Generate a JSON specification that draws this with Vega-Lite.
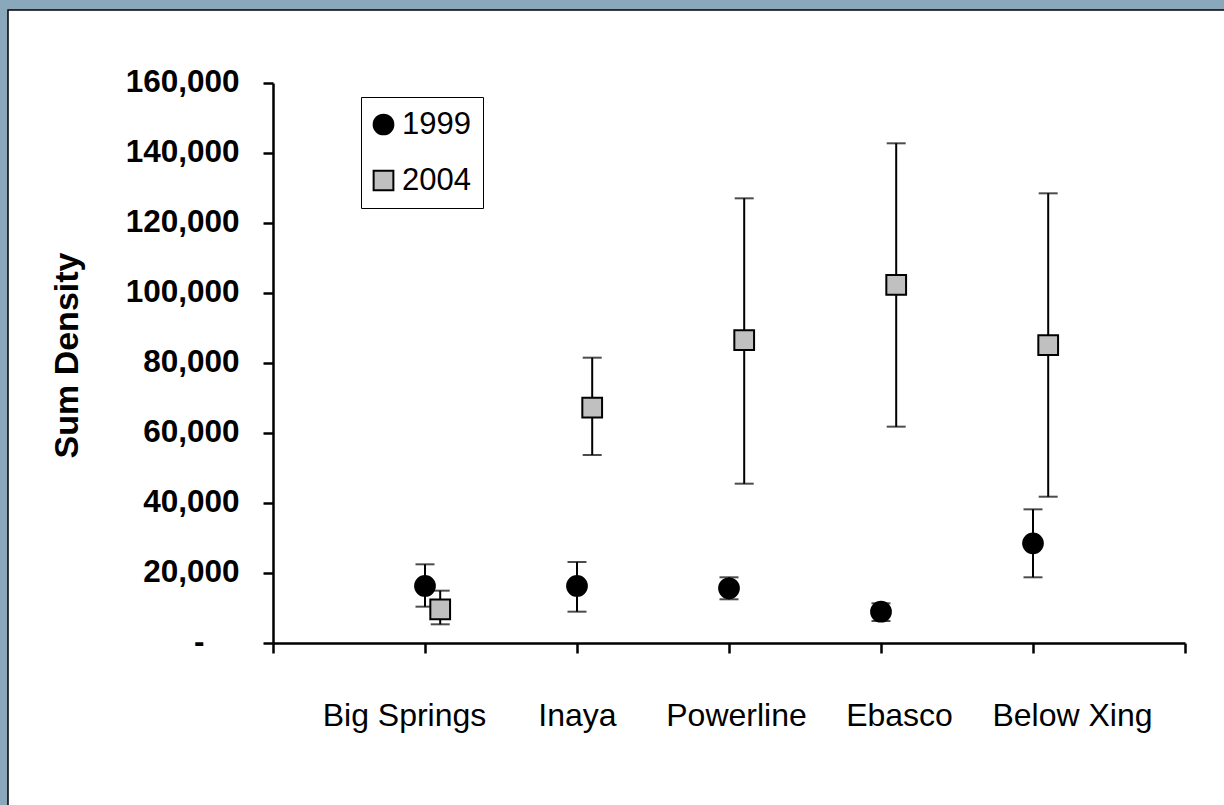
{
  "$schema": "https://vega.github.io/schema/vega-lite/v6.json",
  "width": 1216,
  "height": 795,
  "autosize": {"type": "none"},
  "padding": {"left": 8, "top": 10, "right": 0, "bottom": 0},
  "background": "#8AA8BB",
  "config": {
    "view": {"fill": "white", "stroke": "black", "strokeWidth": 1.5, "strokeDash": [1216, 2011, 795, 1]},
    "font": "Liberation Sans"
  },
  "data": {
    "values": [
      {"site": "Big Springs", "year": "1999", "pos": 1, "mean": 16290, "lo": 10380, "hi": 22480},
      {"site": "Inaya", "year": "1999", "pos": 2, "mean": 16290, "lo": 8950, "hi": 23140},
      {"site": "Powerline", "year": "1999", "pos": 3, "mean": 15630, "lo": 12490, "hi": 18770},
      {"site": "Ebasco", "year": "1999", "pos": 4, "mean": 8940, "lo": 6290, "hi": 11340},
      {"site": "Below Xing", "year": "1999", "pos": 5, "mean": 28480, "lo": 18770, "hi": 38190},
      {"site": "Big Springs", "year": "2004", "pos": 1.1, "mean": 9620, "lo": 5340, "hi": 14950},
      {"site": "Inaya", "year": "2004", "pos": 2.1, "mean": 67230, "lo": 53710, "hi": 81520},
      {"site": "Powerline", "year": "2004", "pos": 3.1, "mean": 86570, "lo": 45520, "hi": 127050},
      {"site": "Ebasco", "year": "2004", "pos": 4.1, "mean": 102290, "lo": 61810, "hi": 142770},
      {"site": "Below Xing", "year": "2004", "pos": 5.1, "mean": 85140, "lo": 41800, "hi": 128480}
    ]
  },
  "encoding": {
    "x": {
      "field": "pos",
      "type": "quantitative",
      "scale": {"domain": [-1.7434, 6.2566], "nice": false, "zero": false},
      "axis": {
        "values": [0, 1, 2, 3, 4, 5, 6],
        "offset": -162,
        "domain": true,
        "domainColor": "black",
        "domainWidth": 2.5,
        "domainDash": [0, 265, 912, 100],
        "grid": false,
        "title": null,
        "tickSize": 10,
        "tickWidth": 2.5,
        "tickColor": "black",
        "labelFont": "Liberation Sans",
        "labelFontSize": 32,
        "labelColor": "black",
        "labelBaseline": "alphabetic",
        "labelPadding": 72,
        "labelFlush": false,
        "labelOverlap": false,
        "labelBound": false,
        "labelExpr": "datum.value == 1 ? 'Big Springs' : datum.value == 2 ? 'Inaya' : datum.value == 3 ? 'Powerline' : datum.value == 4 ? 'Ebasco' : datum.value == 5 ? 'Below Xing' : ''",
        "labelOffset": {"expr": "datum.value == 1 ? -21 : datum.value == 3 ? 7 : datum.value == 4 ? 18 : datum.value == 5 ? 39 : 0"}
      }
    },
    "y": {
      "type": "quantitative",
      "scale": {"domain": [-46286, 180857], "nice": false, "zero": false},
      "axis": {
        "values": [0, 20000, 40000, 60000, 80000, 100000, 120000, 140000, 160000],
        "offset": -265,
        "domain": true,
        "domainColor": "black",
        "domainWidth": 2.5,
        "domainDash": [0, 162, 560, 200],
        "grid": false,
        "tickSize": 10,
        "tickWidth": 2.5,
        "tickColor": "black",
        "labelFont": "Liberation Sans",
        "labelFontSize": 31.5,
        "labelFontWeight": "bold",
        "labelColor": "black",
        "labelPadding": {"expr": "datum.value === 0 ? 59 : 24"},
        "labelBound": false,
        "labelOverlap": false,
        "labelFlush": false,
        "labelExpr": "datum.value === 0 ? '-' : format(datum.value, ',')",
        "title": "Sum Density",
        "titleFont": "Liberation Sans",
        "titleFontSize": 34,
        "titleFontWeight": "bold",
        "titleColor": "black",
        "titleAngle": 270,
        "titleAlign": "center",
        "titleBaseline": "alphabetic",
        "titleX": -196,
        "titleY": 345
      }
    }
  },
  "layer": [
    {
      "mark": {"type": "rule", "color": "black", "strokeWidth": 2},
      "encoding": {
        "y": {"field": "lo"},
        "y2": {"field": "hi"}
      }
    },
    {
      "mark": {"type": "tick", "orient": "horizontal", "color": "black", "size": 19, "thickness": 2},
      "encoding": {"y": {"field": "lo"}}
    },
    {
      "mark": {"type": "tick", "orient": "horizontal", "color": "black", "size": 19, "thickness": 2},
      "encoding": {"y": {"field": "hi"}}
    },
    {
      "mark": {"type": "point", "filled": true, "strokeWidth": 2, "opacity": 1, "size": 390},
      "encoding": {
        "y": {"field": "mean"},
        "shape": {
          "field": "year",
          "type": "nominal",
          "scale": {"domain": ["1999", "2004"], "range": ["circle", "square"]},
          "legend": {
            "title": null,
            "orient": "none",
            "legendX": 353,
            "legendY": 87,
            "strokeColor": "black",
            "fillColor": "white",
            "padding": 12,
            "labelFont": "Liberation Sans",
            "labelFontSize": 31,
            "labelColor": "black",
            "labelOffset": 3,
            "symbolOffset": -5,
            "rowPadding": 24,
            "symbolSize": 390,
            "symbolStrokeWidth": 2
          }
        },
        "fill": {
          "field": "year",
          "type": "nominal",
          "scale": {"domain": ["1999", "2004"], "range": ["black", "#C0C0C0"]},
          "legend": {
            "title": null,
            "orient": "none",
            "legendX": 353,
            "legendY": 87,
            "strokeColor": "black",
            "fillColor": "white",
            "padding": 12,
            "labelFont": "Liberation Sans",
            "labelFontSize": 31,
            "labelColor": "black",
            "labelOffset": 3,
            "symbolOffset": -5,
            "rowPadding": 24,
            "symbolSize": 390,
            "symbolStrokeWidth": 2
          }
        },
        "stroke": {
          "field": "year",
          "type": "nominal",
          "scale": {"domain": ["1999", "2004"], "range": ["black", "black"]},
          "legend": {
            "title": null,
            "orient": "none",
            "legendX": 353,
            "legendY": 87,
            "strokeColor": "black",
            "fillColor": "white",
            "padding": 12,
            "labelFont": "Liberation Sans",
            "labelFontSize": 31,
            "labelColor": "black",
            "labelOffset": 3,
            "symbolOffset": -5,
            "rowPadding": 24,
            "symbolSize": 390,
            "symbolStrokeWidth": 2
          }
        }
      }
    }
  ]
}
